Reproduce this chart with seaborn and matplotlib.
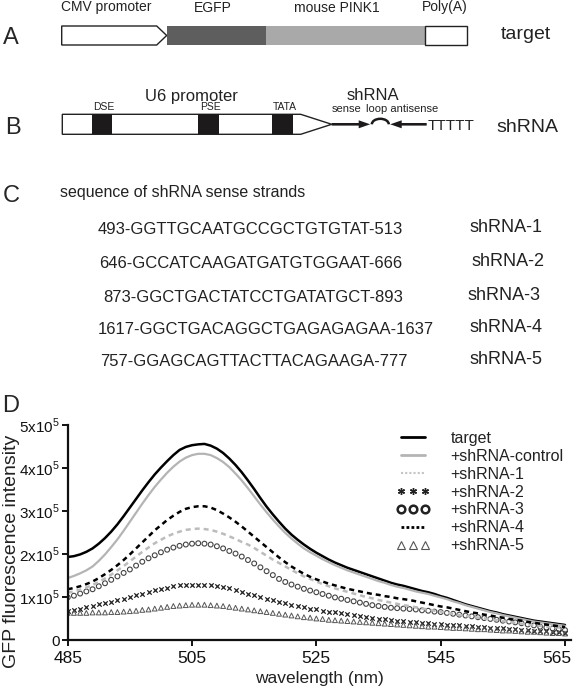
import matplotlib
matplotlib.use('Agg')

import matplotlib.pyplot as plt
import matplotlib.patches as mpatches
import matplotlib.transforms as mtransforms
from matplotlib.lines import Line2D
import seaborn as sns
import numpy as np

# ---- panel D data (fluorescence, units of 1e5) ----
wavelength = list(range(485, 566))

target = [1.93, 1.95, 1.99, 2.05, 2.13, 2.24, 2.37, 2.52, 2.69, 2.88,
          3.08, 3.28, 3.48, 3.67, 3.85, 4.01, 4.16, 4.30, 4.42, 4.49,
          4.53, 4.55, 4.56, 4.52, 4.45, 4.35, 4.22, 4.07, 3.90, 3.71,
          3.51, 3.30, 3.10, 2.92, 2.75, 2.59, 2.45, 2.33, 2.22, 2.12,
          2.03, 1.95, 1.87, 1.80, 1.74, 1.68, 1.63, 1.58, 1.53, 1.48,
          1.43, 1.38, 1.33, 1.29, 1.26, 1.22, 1.18, 1.14, 1.11, 1.07,
          1.02, 0.98, 0.93, 0.88, 0.83, 0.79, 0.75, 0.71, 0.67, 0.64,
          0.60, 0.57, 0.54, 0.51, 0.48, 0.45, 0.43, 0.41, 0.39, 0.37,
          0.35]

control = [1.44, 1.49, 1.55, 1.62, 1.71, 1.84, 1.99, 2.16, 2.34, 2.54,
           2.75, 2.96, 3.17, 3.37, 3.56, 3.73, 3.89, 4.03, 4.15, 4.24,
           4.30, 4.33, 4.33, 4.30, 4.23, 4.14, 4.02, 3.87, 3.71, 3.53,
           3.34, 3.15, 2.97, 2.80, 2.64, 2.49, 2.36, 2.24, 2.13, 2.04,
           1.96, 1.88, 1.81, 1.74, 1.68, 1.62, 1.57, 1.52, 1.47, 1.42,
           1.37, 1.33, 1.28, 1.24, 1.21, 1.17, 1.13, 1.10, 1.07, 1.03,
           0.99, 0.95, 0.90, 0.86, 0.81, 0.77, 0.73, 0.69, 0.65, 0.62,
           0.58, 0.55, 0.52, 0.49, 0.46, 0.43, 0.41, 0.39, 0.37, 0.35,
           0.33]

sh1 = [1.10, 1.13, 1.17, 1.22, 1.28, 1.35, 1.43, 1.52, 1.62, 1.72,
       1.83, 1.94, 2.05, 2.15, 2.25, 2.33, 2.41, 2.47, 2.52, 2.56,
       2.58, 2.59, 2.58, 2.56, 2.52, 2.47, 2.41, 2.35, 2.28, 2.22,
       2.14, 2.05, 1.96, 1.87, 1.79, 1.71, 1.63, 1.55, 1.48, 1.42,
       1.36, 1.30, 1.25, 1.20, 1.16, 1.12, 1.08, 1.04, 1.00, 0.97,
       0.93, 0.90, 0.87, 0.84, 0.81, 0.79, 0.76, 0.73, 0.71, 0.68,
       0.66, 0.63, 0.61, 0.58, 0.56, 0.54, 0.52, 0.50, 0.48, 0.46,
       0.44, 0.42, 0.40, 0.38, 0.36, 0.34, 0.33, 0.31, 0.30, 0.29,
       0.28]

sh2 = [0.68, 0.70, 0.73, 0.76, 0.80, 0.83, 0.86, 0.89, 0.92, 0.96,
       1.00, 1.04, 1.08, 1.12, 1.16, 1.19, 1.22, 1.25, 1.27, 1.28,
       1.29, 1.29, 1.28, 1.27, 1.25, 1.23, 1.20, 1.16, 1.12, 1.08,
       1.04, 1.00, 0.96, 0.92, 0.88, 0.85, 0.82, 0.79, 0.76, 0.73,
       0.71, 0.68, 0.66, 0.64, 0.62, 0.60, 0.58, 0.56, 0.54, 0.52,
       0.50, 0.48, 0.47, 0.45, 0.44, 0.43, 0.41, 0.40, 0.39, 0.38,
       0.37, 0.36, 0.35, 0.34, 0.33, 0.32, 0.31, 0.30, 0.29, 0.28,
       0.27, 0.26, 0.25, 0.24, 0.23, 0.22, 0.21, 0.20, 0.19, 0.18,
       0.17]

sh3 = [0.99, 1.03, 1.08, 1.13, 1.18, 1.25, 1.32, 1.40, 1.48, 1.56,
       1.64, 1.73, 1.82, 1.90, 1.97, 2.04, 2.10, 2.15, 2.19, 2.22,
       2.24, 2.25, 2.24, 2.22, 2.18, 2.13, 2.07, 2.01, 1.94, 1.86,
       1.78, 1.69, 1.60, 1.51, 1.42, 1.35, 1.29, 1.24, 1.19, 1.15,
       1.11, 1.07, 1.03, 0.99, 0.96, 0.93, 0.90, 0.87, 0.84, 0.81,
       0.79, 0.77, 0.75, 0.74, 0.73, 0.72, 0.71, 0.69, 0.68, 0.66,
       0.65, 0.63, 0.61, 0.59, 0.57, 0.55, 0.53, 0.51, 0.49, 0.47,
       0.45, 0.43, 0.41, 0.39, 0.36, 0.34, 0.31, 0.29, 0.27, 0.25,
       0.23]

sh4 = [1.18, 1.21, 1.25, 1.30, 1.36, 1.44, 1.53, 1.63, 1.74, 1.86,
       1.99, 2.13, 2.27, 2.41, 2.55, 2.67, 2.79, 2.89, 2.98, 3.05,
       3.09, 3.11, 3.11, 3.08, 3.02, 2.94, 2.85, 2.75, 2.64, 2.52,
       2.40, 2.28, 2.16, 2.04, 1.92, 1.81, 1.71, 1.62, 1.54, 1.47,
       1.41, 1.36, 1.31, 1.27, 1.23, 1.19, 1.16, 1.13, 1.10, 1.07,
       1.05, 1.02, 1.00, 0.97, 0.95, 0.93, 0.90, 0.87, 0.84, 0.81,
       0.78, 0.76, 0.73, 0.70, 0.67, 0.64, 0.62, 0.59, 0.57, 0.54,
       0.52, 0.49, 0.47, 0.45, 0.42, 0.40, 0.38, 0.36, 0.34, 0.32,
       0.30]

sh5 = [0.63, 0.63, 0.63, 0.63, 0.64, 0.64, 0.64, 0.65, 0.65, 0.66,
       0.67, 0.68, 0.70, 0.71, 0.73, 0.75, 0.77, 0.79, 0.80, 0.81,
       0.82, 0.82, 0.82, 0.81, 0.80, 0.79, 0.77, 0.75, 0.73, 0.71,
       0.69, 0.67, 0.65, 0.63, 0.61, 0.59, 0.57, 0.55, 0.53, 0.52,
       0.50, 0.49, 0.47, 0.46, 0.45, 0.44, 0.43, 0.42, 0.41, 0.40,
       0.39, 0.38, 0.37, 0.36, 0.35, 0.34, 0.33, 0.32, 0.31, 0.31,
       0.30, 0.29, 0.28, 0.28, 0.27, 0.26, 0.25, 0.25, 0.24, 0.23,
       0.22, 0.22, 0.21, 0.20, 0.19, 0.19, 0.18, 0.17, 0.16, 0.16,
       0.15]

legend_labels = ['target', '+shRNA-control', '+shRNA-1', '+shRNA-2',
                 '+shRNA-3', '+shRNA-4', '+shRNA-5']
x_ticks = [485, 505, 525, 545, 565]
y_ticks = [0, 1, 2, 3, 4, 5]
y_ticklabels = ['0', '1x10$^\\mathregular{5}$', '2x10$^\\mathregular{5}$',
                '3x10$^\\mathregular{5}$', '4x10$^\\mathregular{5}$',
                '5x10$^\\mathregular{5}$']

# ---- panel C text ----
seq_strands = ['493-GGTTGCAATGCCGCTGTGTAT-513',
               '646-GCCATCAAGATGATGTGGAAT-666',
               '873-GGCTGACTATCCTGATATGCT-893',
               '1617-GGCTGACAGGCTGAGAGAGAA-1637',
               '757-GGAGCAGTTACTTACAGAAGA-777']
seq_names = ['shRNA-1', 'shRNA-2', 'shRNA-3', 'shRNA-4', 'shRNA-5']

sns.set_style('ticks')
plt.rcParams['font.family'] = ['Liberation Sans', 'DejaVu Sans']
plt.rcParams['mathtext.fontset'] = 'custom'
plt.rcParams['mathtext.rm'] = 'Liberation Sans'

fig = plt.figure(figsize=(5.74, 6.89), dpi=100)

# canvas in pixel units for the schematic panels
ax0 = fig.add_axes([0, 0, 1, 1])
ax0.set_xlim(0, 574)
ax0.set_ylim(689, 0)
ax0.axis('off')

big = 17
ink = '#222222'
# ----- A -----
ax0.text(3, 43.5, 'A', fontsize=big, va='baseline')
ax0.add_patch(mpatches.Polygon([(61.7, 26), (156.7, 26), (166.7, 35.5), (156.7, 45), (61.7, 45)],
                               closed=True, fc='white', ec=ink, lw=1))
ax0.add_patch(mpatches.Rectangle((167.3, 26), 98.3, 19, fc='#5e5e5e', ec='none'))
ax0.add_patch(mpatches.Rectangle((265.6, 26), 159.3, 19, fc='#a9a9a9', ec='none'))
ax0.add_patch(mpatches.Rectangle((424.9, 26), 42.1, 19, fc='white', ec=ink, lw=1))
for lab, xc in [('CMV promoter', 106.5), ('EGFP', 213), ('mouse PINK1', 336.7), ('Poly(A)', 445)]:
    ax0.text(xc, 11.5, lab, fontsize=10, ha='center', va='baseline', color=ink)
ax0.text(501, 39, 'target', fontsize=14, va='baseline', color=ink)

# ----- B -----
ax0.text(5, 134.3, 'B', fontsize=big, va='baseline')
ax0.add_patch(mpatches.Polygon([(62.3, 114.3), (300.7, 114.3), (331.7, 124.3), (300.7, 134.3), (62.3, 134.3)],
                               closed=True, fc='white', ec=ink, lw=1))
for lab, x0, x1 in [('DSE', 91.7, 112.3), ('PSE', 198.3, 219.3), ('TATA', 271.7, 293.3)]:
    ax0.add_patch(mpatches.Rectangle((x0, 114.3), x1 - x0, 20, fc='#1c1a1a', ec='none'))
    ax0.text((x0 + x1) / 2 + 2, 110.5, lab, fontsize=7.5, ha='center', va='baseline', color=ink)
ax0.text(191, 101, 'U6 promoter', fontsize=12, ha='center', va='baseline', color=ink)
ax0.text(373, 100, 'shRNA', fontsize=12, ha='center', va='baseline', color=ink)
ax0.text(346.7, 112, 'sense', fontsize=8, ha='center', va='baseline', color=ink)
ax0.text(402.3, 112, 'loop antisense', fontsize=8, ha='center', va='baseline', color=ink)
ax0.add_patch(mpatches.FancyArrow(331.7, 124.3, 38.5, 0, width=2.6, head_width=8, head_length=11.5,
                                  length_includes_head=True, fc='#1c1a1a', ec='none'))
ax0.add_patch(mpatches.FancyArrow(426.7, 124.3, -36.5, 0, width=2.6, head_width=8, head_length=11.5,
                                  length_includes_head=True, fc='#1c1a1a', ec='none'))
ax0.add_patch(mpatches.Arc((380.3, 124.3), 17, 11, theta1=180, theta2=360, lw=1.8, color='#1c1a1a'))
ax0.text(428, 129.5, 'TTTTT', fontsize=11, va='baseline', color=ink)
ax0.text(496, 132, 'shRNA', fontsize=14, va='baseline', color=ink)

# ----- C -----
ax0.text(3, 201.5, 'C', fontsize=big, va='baseline')
ax0.text(60, 196.5, 'sequence of shRNA sense strands', fontsize=11.5, va='baseline', color=ink)
seq_x = [98, 99, 103, 98, 100]
seq_base = [234, 268.5, 301.5, 333.5, 366]
name_x = [470, 471, 467, 469, 470]
name_base = [231.5, 266, 299.5, 332, 364.5]
for s, n, sx, sb, nx, nb in zip(seq_strands, seq_names, seq_x, seq_base, name_x, name_base):
    ax0.text(sx, sb, s, fontsize=12, va='baseline', color=ink)
    ax0.text(nx, nb, n, fontsize=13, va='baseline', color=ink)

# ----- D -----
ax0.text(2, 411.5, 'D', fontsize=big, va='baseline')

ax = fig.add_axes([67.7 / 574, 49 / 689, 503.5 / 574, 215 / 689])
wl = np.array(wavelength)
sc = 1e5
sns.lineplot(x=wl, y=np.array(target) * sc, ax=ax, color='black', lw=1.8)
sns.lineplot(x=wl, y=np.array(control) * sc, ax=ax, color='#b4b4b4', lw=1.6)
sns.lineplot(x=wl, y=np.array(sh1) * sc, ax=ax, color='#bcbcbc', lw=1.8, dashes=False,
             linestyle=(0, (2, 1.6)))
sns.lineplot(x=wl, y=np.array(sh4) * sc, ax=ax, color='black', lw=1.8, dashes=False,
             linestyle=(0, (2, 1.6)))
sns.scatterplot(x=wl, y=np.array(sh3) * sc, ax=ax, marker='o', s=12, facecolors='none',
                edgecolor='#444444', linewidth=0.8)
sns.scatterplot(x=wl, y=np.array(sh2) * sc, ax=ax, marker='x', s=10, color='#222222', linewidth=0.9)
sns.scatterplot(x=wl, y=np.array(sh5) * sc, ax=ax, marker='^', s=12, facecolors='none',
                edgecolor='#555555', linewidth=0.7)

ax.set_xlim(485, 566)
ax.set_ylim(0, 5e5)
ax.set_xticks(x_ticks)
ax.set_yticks([v * sc for v in y_ticks])
ax.set_yticklabels(y_ticklabels)
sns.despine(ax=ax)
for sp in ['left', 'bottom']:
    ax.spines[sp].set_linewidth(1.6)
    ax.spines[sp].set_color('#111111')
ax.tick_params(axis='both', direction='out', length=4, width=1.4, colors='#111111')
ax.tick_params(axis='x', labelsize=12.5, pad=4)
ax.tick_params(axis='y', labelsize=11, pad=1.5)
# last x tick label sits slightly left of its tick, as in the original
last = ax.get_xticklabels()[-1]
last.set_transform(last.get_transform() + mtransforms.ScaledTranslation(-8 / 100, 0, fig.dpi_scale_trans))

ax.set_xlabel('wavelength (nm)', fontsize=12.5, color=ink)
ax.set_ylabel('GFP fluorescence intensity', fontsize=14, color=ink)
ax.xaxis.set_label_coords(0.5, -0.145)
ax.yaxis.set_label_coords(-0.0955, 0.41)
ax.patch.set_alpha(0)

handles = [
    Line2D([], [], color='black', lw=2),
    Line2D([], [], color='#b4b4b4', lw=2),
    Line2D([], [], color='#c4c4c4', lw=1.5, ls=(0, (1, 1))),
    Line2D([], [], color='#222222', marker=(6, 2, 0), ls='none', ms=5, mew=1),
    Line2D([], [], color='#222222', marker='o', mfc='none', mew=1.8, ls='none', ms=5.5),
    Line2D([], [], color='black', lw=2, ls=(0, (1, 0.8))),
    Line2D([], [], color='#555555', marker='^', mfc='none', mew=0.8, ls='none', ms=6),
]
leg = fig.legend(handles, legend_labels, loc='upper left', bbox_to_anchor=(396 / 574, 1 - 431 / 689),
                 frameon=False, fontsize=11.5, numpoints=3, handlelength=2.1, handletextpad=1.3,
                 labelspacing=0.18, borderpad=0, borderaxespad=0)
for t in leg.get_texts():
    t.set_color(ink)

fig.savefig('out.png', dpi=100)
